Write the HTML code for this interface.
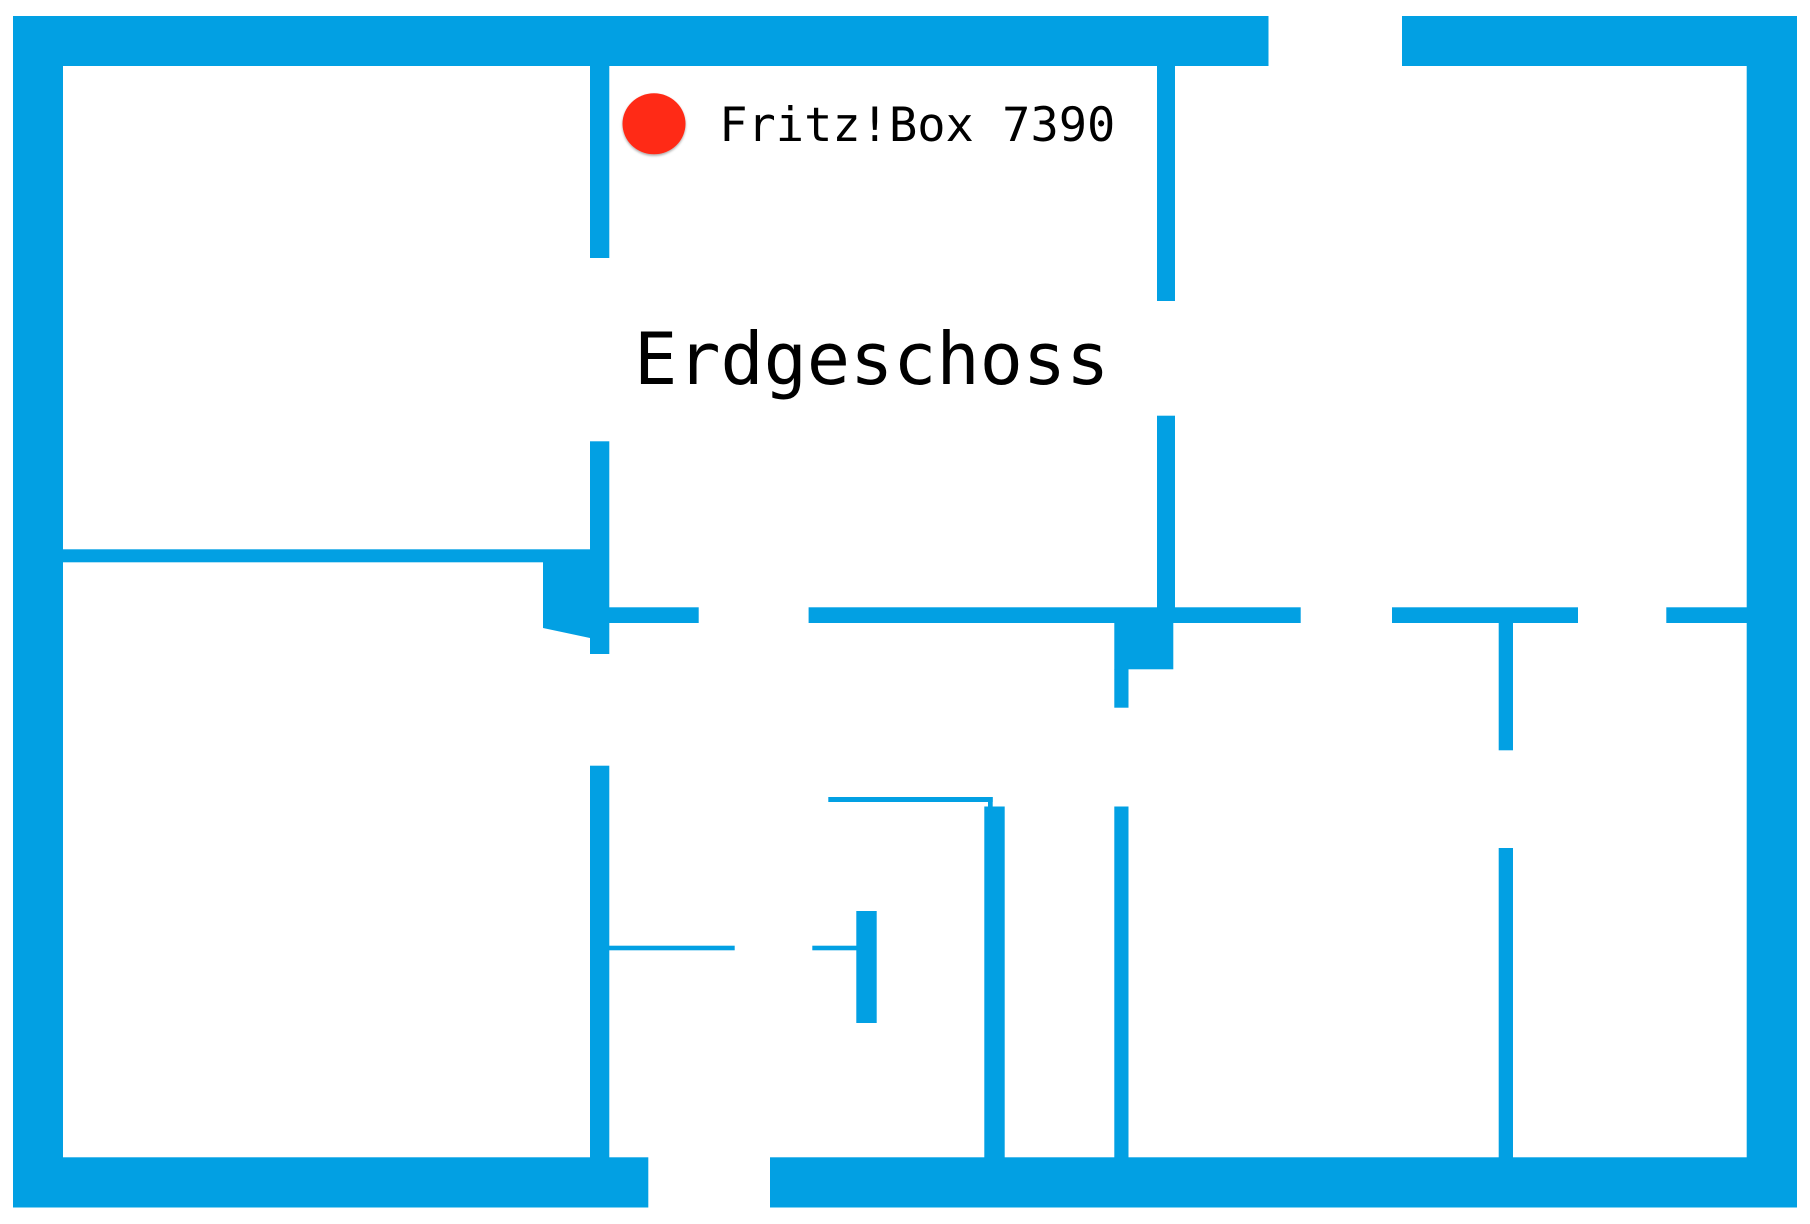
<!DOCTYPE html>
<html lang="de">
<head>
<meta charset="utf-8">
<title>Erdgeschoss</title>
<style>
html,body{margin:0;padding:0;background:#fff;width:1810px;height:1224px;overflow:hidden}
svg{display:block}
text{font-family:"DejaVu Sans Mono","Liberation Mono",monospace;fill:#000}
</style>
</head>
<body>
<svg width="1810" height="1224" viewBox="0 0 1810 1224" xmlns="http://www.w3.org/2000/svg">
<defs>
<filter id="s" x="-20%" y="-20%" width="140%" height="140%">
<feDropShadow dx="0" dy="1.5" stdDeviation="1.2" flood-color="#000" flood-opacity="0.35"/>
</filter>
</defs>
<g fill="#02a0e3">
<!-- outer walls -->
<rect x="13" y="16" width="1255.5" height="50"/>
<rect x="1402" y="16" width="395" height="50"/>
<rect x="13" y="16" width="50" height="1191.5"/>
<rect x="1746.7" y="16" width="50.3" height="1191.5"/>
<rect x="13" y="1157.3" width="635.3" height="50.2"/>
<rect x="770" y="1157.3" width="1027" height="50.2"/>
<!-- wall 1 -->
<rect x="590" y="66" width="19.3" height="192"/>
<rect x="590" y="441.3" width="19.3" height="212.7"/>
<rect x="590" y="765.7" width="19.3" height="392"/>
<!-- wall 2 -->
<rect x="1157" y="66" width="18" height="235"/>
<rect x="1157" y="415.7" width="18" height="192"/>
<!-- left room divider and block -->
<rect x="63" y="549.3" width="527" height="13"/>
<polygon points="543,562 590,562 590,638 543,628"/>
<!-- central horizontal wall -->
<rect x="609" y="607.3" width="89.7" height="15.7"/>
<rect x="808.6" y="607.3" width="492.1" height="15.7"/>
<rect x="1392" y="607.3" width="186" height="15.7"/>
<rect x="1666.3" y="607.3" width="81" height="15.7"/>
<!-- block below -->
<rect x="1114.3" y="623" width="59" height="46.3"/>
<rect x="1114.3" y="669" width="14.2" height="38.7"/>
<rect x="1114.3" y="806.5" width="14.2" height="351"/>
<!-- right stem -->
<rect x="1498.7" y="623" width="14.3" height="127.3"/>
<rect x="1498.7" y="848" width="14.3" height="310"/>
<!-- thin walls -->
<rect x="609" y="945.7" width="125.7" height="4.6"/>
<rect x="812.3" y="945.7" width="44.5" height="4.6"/>
<rect x="856.3" y="911" width="20.4" height="112"/>
<rect x="828.3" y="797" width="164.4" height="5"/>
<rect x="988" y="797" width="4.7" height="10"/>
<rect x="984.3" y="806.5" width="20.4" height="351"/>
</g>
<ellipse cx="654" cy="123.8" rx="31.5" ry="30.5" fill="#ff2a14" filter="url(#s)"/>
<text x="719.2" y="141" font-size="47">Fritz!Box 7390</text>
<text x="634" y="384" font-size="72" letter-spacing="-0.15">Erdgeschoss</text>
</svg>
</body>
</html>
